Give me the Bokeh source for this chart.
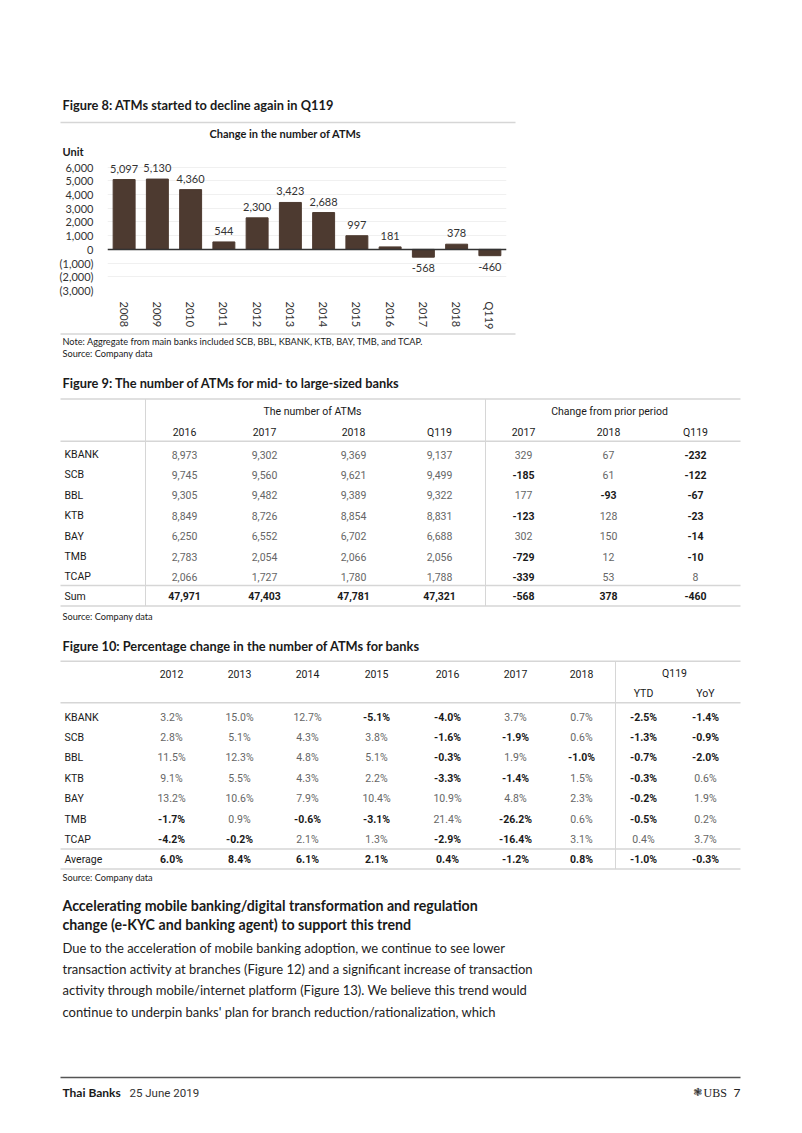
from bokeh.plotting import figure
from bokeh.models import Range1d, ColumnDataSource, LabelSet, FactorRange, Span, FixedTicker, NumeralTickFormatter
from bokeh.layouts import column, row
from bokeh.embed import file_html
from bokeh.resources import INLINE
from bokeh.core.properties import value

# ---------------- data ----------------
categories = ["2008", "2009", "2010", "2011", "2012", "2013", "2014", "2015", "2016", "2017", "2018", "Q119"]
atm_change = [5097, 5130, 4360, 544, 2300, 3423, 2688, 997, 181, -568, 378, -460]
y_ticks = [-3000, -2000, -1000, 0, 1000, 2000, 3000, 4000, 5000, 6000]

banks = ["KBANK", "SCB", "BBL", "KTB", "BAY", "TMB", "TCAP"]
t1_years = ["2016", "2017", "2018", "Q119"]
t1_chg_years = ["2017", "2018", "Q119"]
atm_2016 = [8973, 9745, 9305, 8849, 6250, 2783, 2066]
atm_2017 = [9302, 9560, 9482, 8726, 6552, 2054, 1727]
atm_2018 = [9369, 9621, 9389, 8854, 6702, 2066, 1780]
atm_q119 = [9137, 9499, 9322, 8831, 6688, 2056, 1788]
chg_2017 = [329, -185, 177, -123, 302, -729, -339]
chg_2018 = [67, 61, -93, 128, 150, 12, 53]
chg_q119 = [-232, -122, -67, -23, -14, -10, 8]
atm_sum = [47971, 47403, 47781, 47321]
chg_sum = [-568, 378, -460]

t2_years = ["2012", "2013", "2014", "2015", "2016", "2017", "2018"]
t2_q = ["YTD", "YoY"]
pct_2012 = [3.2, 2.8, 11.5, 9.1, 13.2, -1.7, -4.2]
pct_2013 = [15.0, 5.1, 12.3, 5.5, 10.6, 0.9, -0.2]
pct_2014 = [12.7, 4.3, 4.8, 4.3, 7.9, -0.6, 2.1]
pct_2015 = [-5.1, 3.8, 5.1, 2.2, 10.4, -3.1, 1.3]
pct_2016 = [-4.0, -1.6, -0.3, -3.3, 10.9, 21.4, -2.9]
pct_2017 = [3.7, -1.9, 1.9, -1.4, 4.8, -26.2, -16.4]
pct_2018 = [0.7, 0.6, -1.0, 1.5, 2.3, 0.6, 3.1]
pct_ytd = [-2.5, -1.3, -0.7, -0.3, -0.2, -0.5, 0.4]
pct_yoy = [-1.4, -0.9, -2.0, 0.6, 1.9, 0.2, 3.7]
pct_avg = [6.0, 8.4, 6.1, 2.1, 0.4, -1.2, 0.8, -1.0, -0.3]

SANS = "Lato"
NARROW = "Roboto"
TS = 10.5  # table font size
DARK = "#1a1a1a"
GREY = "#666666"
RULE = "#d6d6d6"
BAR = "#4d3a30"
PAGE_W = 800


def page_fig(y0, y1):
    p = figure(width=PAGE_W, height=y1 - y0, x_range=Range1d(0, PAGE_W), y_range=Range1d(y1, y0),
               min_border=0, toolbar_location=None, output_backend="svg")
    p.axis.visible = False
    p.grid.visible = False
    p.outline_line_color = None
    p.background_fill_color = "white"
    p.border_fill_color = "white"
    return p


def txt(p, x, y, s, size, bold=False, color=DARK, align="left", font=SANS):
    p.text(x=[x], y=[y], text=[s], text_font=value(font), text_font_size=value(f"{size}px"),
           text_font_style="bold" if bold else "normal", text_color=color,
           text_align=align, text_baseline="middle")


def hline(p, x0, x1, y, color=RULE, w=1.5):
    p.segment(x0=[x0], y0=[y], x1=[x1], y1=[y], line_color=color, line_width=w)


def vline(p, x, y0, y1, color=RULE, w=1):
    p.segment(x0=[x], y0=[y0], x1=[x], y1=[y1], line_color=color, line_width=w)


# ---------------- top block (page y 0..160) ----------------
top = page_fig(0, 160)
txt(top, 62, 104, "Figure 8: ATMs started to decline again in Q119", 12.8, bold=True)
hline(top, 60, 515, 122)
txt(top, 285, 133, "Change in the number of ATMs", 11, bold=True, align="center")
txt(top, 62, 151, "Unit", 11, bold=True)

# ---------------- bar chart (page y 160..332) ----------------
# frame: x 107..506, y 160..297 ; 6,000 sits at y=167, (3,000) at y=297
chart = figure(width=PAGE_W, height=172, x_range=FactorRange(*categories, range_padding=0),
               y_range=Range1d(-3000, 6484.6), min_border_left=107, min_border_right=PAGE_W - 506,
               min_border_top=0, min_border_bottom=35, toolbar_location=None,
               output_backend="svg")
chart.outline_line_color = None
chart.background_fill_color = "white"
chart.border_fill_color = "white"
chart.vbar(x=categories, top=atm_change, width=0.66, fill_color=BAR, line_color=BAR)
chart.add_layout(Span(location=0, dimension="width", line_color="#333333", line_width=1.5))
chart.xgrid.visible = False
chart.ygrid.grid_line_color = "#f0f0f0"
chart.yaxis.ticker = FixedTicker(ticks=y_ticks)
chart.yaxis.formatter = NumeralTickFormatter(format="(0,0)")
for ax in (chart.xaxis[0], chart.yaxis[0]):
    ax.axis_line_color = None
    ax.major_tick_line_color = None
    ax.minor_tick_line_color = None
    ax.major_label_text_font = SANS
    ax.major_label_text_font_size = "11px"
    ax.major_label_text_color = "#333333"
chart.yaxis.major_label_standoff = 8
chart.xaxis.major_label_standoff = 5
chart.xaxis.major_label_orientation = "vertical"

lab_src = ColumnDataSource(dict(
    x=categories, y=atm_change,
    t=[f"{v:,}" for v in atm_change],
    off=[11 if v >= 0 else -11 for v in atm_change]))
chart.add_layout(LabelSet(x="x", y="y", text="t", y_offset="off", source=lab_src,
                          text_align="center", text_baseline="middle",
                          text_font=value(SANS), text_font_size="11px", text_color="#333333"))

# ---------------- bottom block (page y 332..1132) ----------------
bot = page_fig(332, 1132)
hline(bot, 60, 515, 333.5)
txt(bot, 62, 341, "Note: Aggregate from main banks included SCB, BBL, KBANK, KTB, BAY, TMB, and TCAP.", 9.2)
txt(bot, 62, 353, "Source:  Company data", 9.2)

# Figure 9 table
txt(bot, 62, 382, "Figure 9: The number of ATMs for mid- to large-sized banks", 12.8, bold=True)
T1_TOP, T1_HDR, T1_YR, T1_HL = 398.5, 411, 431.5, 440.7
t1_cols = [184, 264, 353, 439]
t1_chg_cols = [523, 608, 695]
row_y1 = [454 + 20.4 * i for i in range(len(banks))]
hline(bot, 60, 740, T1_TOP)
hline(bot, 60, 740, T1_HL)
hline(bot, 60, 740, 585)
hline(bot, 60, 740, 605.5)
vline(bot, 145, T1_TOP, 605.5)
vline(bot, 485, T1_TOP, 605.5)
txt(bot, 312, T1_HDR, "The number of ATMs", TS, font=NARROW, align="center")
txt(bot, 609, T1_HDR, "Change from prior period", TS, font=NARROW, align="center")
for cx, yr in zip(t1_cols, t1_years):
    txt(bot, cx, T1_YR, yr, TS, font=NARROW, align="center")
for cx, yr in zip(t1_chg_cols, t1_chg_years):
    txt(bot, cx, T1_YR, yr, TS, font=NARROW, align="center")
for i, b in enumerate(banks):
    y = row_y1[i]
    txt(bot, 64, y, b, TS, font=NARROW)
    for cx, col in zip(t1_cols, [atm_2016, atm_2017, atm_2018, atm_q119]):
        txt(bot, cx, y, f"{col[i]:,}", TS, font=NARROW, color=GREY, align="center")
    for cx, col in zip(t1_chg_cols, [chg_2017, chg_2018, chg_q119]):
        v = col[i]
        txt(bot, cx, y, f"{v:,}", TS, font=NARROW, bold=v < 0,
            color=DARK if v < 0 else GREY, align="center")
txt(bot, 64, 595.5, "Sum", TS, font=NARROW)
for cx, v in zip(t1_cols, atm_sum):
    txt(bot, cx, 595.5, f"{v:,}", TS, font=NARROW, bold=True, align="center")
for cx, v in zip(t1_chg_cols, chg_sum):
    txt(bot, cx, 595.5, f"{v:,}", TS, font=NARROW, bold=True, align="center")
txt(bot, 62, 616, "Source:  Company data", 9.2)

# Figure 10 table
txt(bot, 62, 645, "Figure 10: Percentage change in the number of ATMs for banks", 12.8, bold=True)
T2_TOP, T2_YR, T2_SUB, T2_HL = 660.7, 673, 693, 702.3
t2_cols = [171, 239, 307, 376, 447, 515, 581]
t2_q_cols = [643, 705]
row_y2 = [716.5 + 20.4 * i for i in range(len(banks))]
hline(bot, 60, 740, T2_TOP)
hline(bot, 60, 740, T2_HL)
hline(bot, 60, 740, 848.5)
hline(bot, 60, 740, 868.5)
vline(bot, 615, T2_TOP, 868.5)
for cx, yr in zip(t2_cols, t2_years):
    txt(bot, cx, T2_YR, yr, TS, font=NARROW, align="center")
txt(bot, 674, T2_YR, "Q119", TS, font=NARROW, align="center")
for cx, q in zip(t2_q_cols, t2_q):
    txt(bot, cx, T2_SUB, q, TS, font=NARROW, align="center")
pct_cols = [pct_2012, pct_2013, pct_2014, pct_2015, pct_2016, pct_2017, pct_2018, pct_ytd, pct_yoy]
all_cols = t2_cols + t2_q_cols
for i, b in enumerate(banks):
    y = row_y2[i]
    txt(bot, 64, y, b, TS, font=NARROW)
    for cx, col in zip(all_cols, pct_cols):
        v = col[i]
        txt(bot, cx, y, f"{v:.1f}%", TS, font=NARROW, bold=v < 0,
            color=DARK if v < 0 else GREY, align="center")
txt(bot, 64, 859, "Average", TS, font=NARROW)
for cx, v in zip(all_cols, pct_avg):
    txt(bot, cx, 859, f"{v:.1f}%", TS, font=NARROW, bold=True, align="center")
txt(bot, 62, 877, "Source:  Company data", 9.2)

# Prose
txt(bot, 62, 905, "Accelerating mobile banking/digital transformation and regulation", 14.2, bold=True)
txt(bot, 62, 924, "change (e-KYC and banking agent) to support this trend", 14.2, bold=True)
body = [
    "Due to the acceleration of mobile banking adoption, we continue to see lower",
    "transaction activity at branches (Figure 12) and a significant increase of transaction",
    "activity through mobile/internet platform (Figure 13). We believe this trend would",
    "continue to underpin banks' plan for branch reduction/rationalization, which",
]
for i, line in enumerate(body):
    txt(bot, 62, 947.5 + 21.2 * i, line, 13, color="#222222")

# Footer
hline(bot, 60, 740, 1077, color="#555555", w=1.5)
txt(bot, 62, 1092, "Thai Banks", 12, bold=True)
txt(bot, 129, 1092, "25 June 2019", 11.5, font=NARROW, color="#333333")
txt(bot, 697, 1092, "\u2743", 11, font="DejaVu Sans", color="#333333", align="center")
txt(bot, 703, 1092, "UBS", 12, font="Liberation Serif", color="#222222")
txt(bot, 740, 1092, "7", 12, color="#222222", align="right")

layout = column(top, row(chart), bot, spacing=0)
open("out.html", "w").write(file_html(layout, INLINE))
